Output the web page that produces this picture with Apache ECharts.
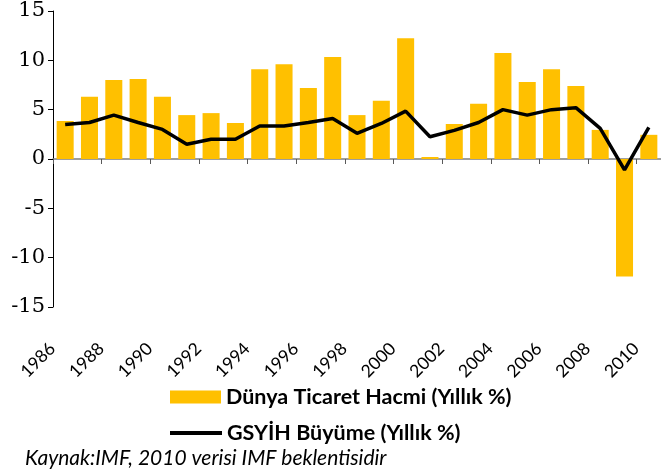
<!DOCTYPE html>
<html>
<head>
<meta charset="utf-8">
<script src="https://cdn.jsdelivr.net/npm/echarts@6/dist/echarts.min.js"></script>
<style>
  html, body { margin: 0; padding: 0; background: #fff; }
  #chart { width: 661px; height: 473px; }
</style>
</head>
<body>
<div id="chart"></div>
<script>
// yillar (kategori)
const years = ['1986','1987','1988','1989','1990','1991','1992','1993','1994','1995','1996','1997','1998',
  '1999','2000','2001','2002','2003','2004','2005','2006','2007','2008','2009','2010'];
// dunya ticaret hacmi, yillik %
const tradeVolume = [3.85, 6.3, 8.0, 8.1, 6.3, 4.45, 4.65, 3.65, 9.1, 9.6, 7.2, 10.35, 4.45,
  5.9, 12.25, 0.2, 3.55, 5.6, 10.75, 7.8, 9.1, 7.4, 2.95, -11.9, 2.45];
// GSYIH buyume, yillik %
const gdpGrowth = [3.5, 3.7, 4.45, 3.7, 3.0, 1.5, 2.0, 2.0, 3.35, 3.35, 3.7, 4.1, 2.6,
  3.6, 4.85, 2.25, 2.9, 3.7, 5.0, 4.45, 5.0, 5.2, 3.1, -1.1, 3.2];
// y ekseni
const yMin = -15, yMax = 15, yStep = 5;

const barName = 'Dünya Ticaret Hacmi (Yıllık %)';
const lineName = 'GSYİH Büyüme (Yıllık %)';
const sans = 'Lato';

const chart = echarts.init(document.getElementById('chart'), null, { renderer: 'canvas' });

chart.setOption({
  animation: false,
  backgroundColor: '#fff',
  grid: { left: 53, top: 11, width: 611, height: 296, containLabel: false },
  title: {
    text: 'Kaynak:IMF, 2010 verisi IMF beklentisidir',
    left: 25, top: 448,
    padding: 0,
    textStyle: { fontFamily: sans, fontStyle: 'italic', fontWeight: 'normal', fontSize: 21, color: '#000' }
  },
  legend: [
    {
      data: [{ name: barName, icon: 'rect' }], left: 170, top: 386, padding: 0,
      itemWidth: 51, itemHeight: 13, itemGap: 6,
      textStyle: { fontFamily: sans, fontWeight: 'bold', fontSize: 21.5, color: '#000' }
    },
    {
      data: [{ name: lineName, icon: 'rect' }], left: 170, top: 422, padding: 0,
      itemWidth: 52, itemHeight: 4, itemGap: 6,
      textStyle: { fontFamily: sans, fontWeight: 'bold', fontSize: 21.5, color: '#000' }
    }
  ],
  xAxis: [
    {
      // sadece etiketler, altta
      type: 'category', data: years, position: 'bottom',
      axisLine: { show: false, onZero: false },
      axisTick: { show: false },
      axisLabel: {
        interval: 1, rotate: 45, margin: 26,
        fontFamily: sans, fontSize: 17.5, color: '#000',
        padding: [0, 18, 0, 0]
      },
      splitLine: { show: false }
    },
    {
      // sifir cizgisi ve tikler
      type: 'category', data: years, position: 'bottom',
      axisLine: { show: true, onZero: true, lineStyle: { color: '#7f7f7f', width: 1.5 } },
      axisTick: { show: true, length: 5, lineStyle: { color: '#595959' } },
      axisLabel: { show: false },
      splitLine: { show: false }
    }
  ],
  yAxis: {
    type: 'value', min: yMin, max: yMax, interval: yStep,
    axisLine: { show: true, onZero: false, lineStyle: { color: '#000', width: 1 } },
    axisTick: { show: true, length: 5, lineStyle: { color: '#000' } },
    axisLabel: { margin: 8, fontFamily: '"DejaVu Serif", serif', fontSize: 21, color: '#000' },
    splitLine: { show: false }
  },
  series: [
    {
      name: barName, type: 'bar', data: tradeVolume, xAxisIndex: 0,
      barCategoryGap: '30%',
      itemStyle: { color: '#FFC000' }
    },
    {
      name: lineName, type: 'line', data: gdpGrowth, xAxisIndex: 0,
      symbol: 'none', showSymbol: false,
      lineStyle: { color: '#000', width: 3.5 },
      itemStyle: { color: '#000' },
      z: 5
    }
  ]
});
</script>
</body>
</html>
